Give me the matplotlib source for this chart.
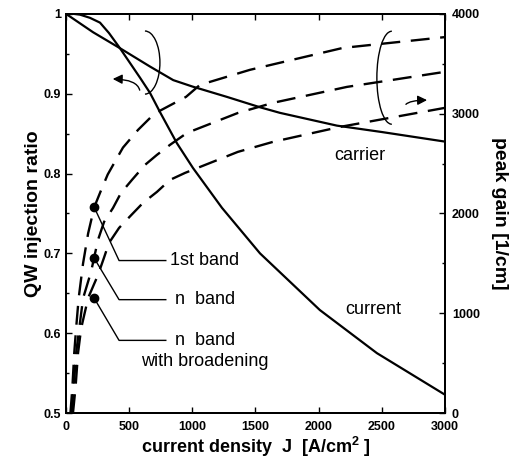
import matplotlib
matplotlib.use("Agg")
import matplotlib.pyplot as plt
from matplotlib.patches import Arc

plt.rcParams['font.family'] = ['Liberation Sans', 'DejaVu Sans']
plt.rcParams['mathtext.fontset'] = 'custom'
plt.rcParams['mathtext.bf'] = 'Liberation Sans:bold'
plt.rcParams['mathtext.rm'] = 'Liberation Sans:bold'

# QW injection ratio (left axis)
J_carrier = [0, 214, 427, 665, 849, 1000, 1274, 1536, 1694, 2145, 2500, 3000]
carrier = [1.0, 0.977, 0.957, 0.934, 0.917, 0.909, 0.896, 0.883, 0.876, 0.860, 0.852, 0.840]
J_current = [0, 60, 111, 190, 269, 340, 427, 586, 665, 744, 878, 1005, 1235, 1536, 2010, 2462, 3000]
current = [1.0, 1.0, 0.999, 0.995, 0.989, 0.976, 0.957, 0.920, 0.901, 0.877, 0.838, 0.807, 0.757, 0.700, 0.629, 0.575, 0.523]

# peak gain (right axis)
J_1st = [35, 50, 65, 80, 100, 135, 175, 224, 280, 330, 404, 451, 570, 700, 950, 1060, 1456, 2193, 3000]
gain_1st = [0, 250, 600, 850, 1150, 1500, 1800, 2065, 2240, 2390, 2556, 2660, 2837, 3000, 3168, 3288, 3439, 3659, 3767]
J_n = [45, 60, 80, 105, 135, 198, 222, 253, 301, 372, 435, 522, 625, 720, 823, 958, 1361, 1638, 2224, 3000]
gain_n = [0, 250, 600, 850, 1150, 1414, 1554, 1734, 1915, 2055, 2205, 2336, 2486, 2587, 2687, 2807, 3007, 3108, 3268, 3419]
J_nb = [55, 75, 95, 120, 175, 253, 300, 340, 420, 510, 609, 720, 823, 942, 1361, 1638, 2169, 3000]
gain_nb = [0, 250, 600, 850, 1153, 1383, 1554, 1704, 1855, 1975, 2105, 2216, 2336, 2406, 2617, 2717, 2867, 3058]

J_dot = 222
dot_gains = [2065, 1554, 1153]

fig = plt.figure(figsize=(5.24, 4.62), dpi=100)
ax = fig.add_axes([0.126, 0.106, 0.723, 0.864])
ax2 = ax.twinx()

ax.plot(J_carrier, carrier, color='black', lw=1.6)
ax.plot(J_current, current, color='black', lw=1.6)
for Jg, g in [(J_1st, gain_1st), (J_n, gain_n), (J_nb, gain_nb)]:
    ax2.plot(Jg, g, color='black', lw=1.7, dashes=(8, 4.5))
ax2.plot([J_dot] * 3, dot_gains, 'o', color='black', ms=6)

ax.set_xlim(0, 3000)
ax.set_ylim(0.5, 1.0)
ax2.set_ylim(0, 4000)

ax.set_xticks([0, 500, 1000, 1500, 2000, 2500, 3000])
ax.set_yticks([0.5, 0.6, 0.7, 0.8, 0.9, 1.0])
ax.set_yticklabels(['0.5', '0.6', '0.7', '0.8', '0.9', '1'])
ax.set_yticks([0.55, 0.65, 0.75, 0.85, 0.95], minor=True)
ax2.set_yticks([0, 1000, 2000, 3000, 4000])
ax2.set_yticks([500, 1500, 2500, 3500], minor=True)
ax.tick_params(axis='both', which='both', direction='in', top=True, labelsize=9)
ax.tick_params(axis='x', pad=6)
ax.tick_params(which='major', length=4, width=1)
ax.tick_params(which='minor', length=2, width=1)
ax2.tick_params(axis='y', which='both', direction='in', labelsize=9, pad=5)
ax2.tick_params(which='major', length=4, width=1)
ax2.tick_params(which='minor', length=2, width=1)
for a in (ax, ax2):
    for lab in a.get_xticklabels() + a.get_yticklabels():
        lab.set_fontweight('bold')
    for s in a.spines.values():
        s.set_linewidth(1.4)

ax.set_xlabel(r'current density  J  [A/cm$^{\mathbf{2}}$ ]', fontsize=13,
              fontweight='bold', labelpad=1)
ax.set_ylabel('QW injection ratio', fontsize=14, fontweight='bold', labelpad=1)
ax2.set_ylabel('peak gain [1/cm]', fontsize=14, fontweight='bold',
               rotation=-90, labelpad=20)

ax.text(2327, 0.823, 'carrier', fontsize=13, ha='center', va='center')
ax.text(2430, 0.630, 'current', fontsize=13, ha='center', va='center')

# leader lines from the dots to the band labels
label_y = [0.691, 0.642, 0.591]
for g, ly in zip(dot_gains, label_y):
    r = 0.5 + g / 4000 * 0.5
    ax.plot([J_dot, 420, 790], [r, ly, ly], color='black', lw=1)
ax.text(823, label_y[0], '1st band', fontsize=13, ha='left', va='center')
ax.text(863, label_y[1], 'n  band', fontsize=13, ha='left', va='center')
ax.text(863, label_y[2], 'n  band', fontsize=13, ha='left', va='center')
ax.text(1100, label_y[2] - 0.027, 'with broadening', fontsize=13,
        ha='center', va='center')

# ellipses with arrows pointing at the axes
ax.add_patch(Arc((625, 0.939), 237, 0.079, theta1=250, theta2=153,
                 color='black', lw=1))
ax.annotate('', xy=(348, 0.9185), xytext=(586, 0.901),
            arrowprops=dict(arrowstyle='-|>', color='black', lw=1,
                            mutation_scale=14,
                            connectionstyle='angle3,angleA=90,angleB=0'))
ax.add_patch(Arc((2580, 0.920), 237, 0.1165, theta1=30, theta2=325,
                 color='black', lw=1))
ax.annotate('', xy=(2881, 0.892), xytext=(2683, 0.8835),
            arrowprops=dict(arrowstyle='-|>', color='black', lw=1,
                            mutation_scale=14,
                            connectionstyle='angle3,angleA=90,angleB=0'))

fig.savefig('out.png', dpi=100)
